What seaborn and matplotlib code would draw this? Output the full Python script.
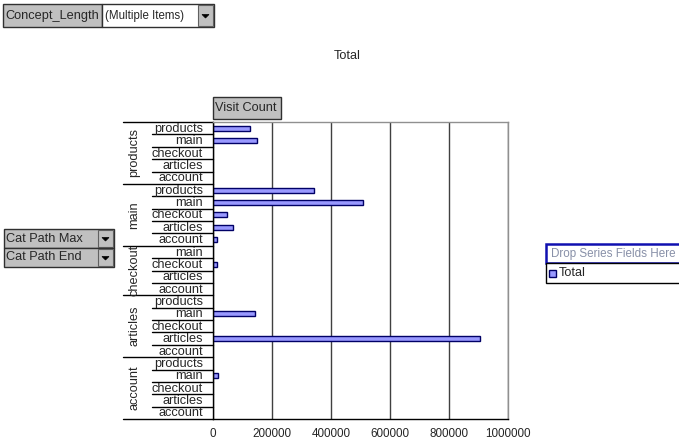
import pandas as pd
import matplotlib.pyplot as plt
import seaborn as sns
from matplotlib.patches import Rectangle, Polygon
from matplotlib.lines import Line2D
from matplotlib.transforms import blended_transform_factory

# pivot data: Cat Path Max (outer) -> Cat Path End (inner) -> Visit Count total
groups = ['products', 'main', 'checkout', 'articles', 'account']
ends = {
    'products': ['products', 'main', 'checkout', 'articles', 'account'],
    'main': ['products', 'main', 'checkout', 'articles', 'account'],
    'checkout': ['main', 'checkout', 'articles', 'account'],
    'articles': ['products', 'main', 'checkout', 'articles', 'account'],
    'account': ['products', 'main', 'checkout', 'articles', 'account'],
}
totals = {
    'products': [126000, 150000, 0, 0, 0],
    'main': [344000, 510000, 47000, 67000, 12000],
    'checkout': [0, 15000, 0, 0],
    'articles': [0, 143000, 0, 905000, 0],
    'account': [0, 17000, 0, 0, 0],
}
x_ticks = [0, 200000, 400000, 600000, 800000, 1000000]

rows = []
for g in groups:
    for e, v in zip(ends[g], totals[g]):
        rows.append({'Cat Path Max': g, 'Cat Path End': e, 'Total': v, 'key': g + '|' + e})
df = pd.DataFrame(rows)
order = list(df['key'])

sns.set_style('white')
plt.rcParams['font.family'] = ['Liberation Sans', 'DejaVu Sans']

W, H = 679, 441
FS = 9.2
fig = plt.figure(figsize=(W / 100, H / 100), dpi=100)


def fx(x):
    return x / W


def fy(y):
    return 1 - y / H


ax = fig.add_axes([fx(213), fy(419), (508 - 213) / W, (419 - 122) / H])
sns.barplot(data=df[df['Total'] > 0], x='Total', y='key', order=order, orient='h',
            color='#9999FF', saturation=1, edgecolor='#000066', linewidth=1,
            width=0.4, ax=ax)

ax.set_xlim(0, 1000000)
ax.set_ylim(len(order) - 0.5, -0.5)
ax.set_xticks(x_ticks)
ax.set_xticklabels([str(t) for t in x_ticks], fontsize=8.4)
ax.tick_params(axis='x', direction='out', length=3, width=1, color='black', pad=3.5)
ax.set_yticks([])
ax.set_xlabel('')
ax.set_ylabel('')
ax.xaxis.grid(True, color='#404040', linewidth=1)
ax.set_axisbelow(True)
for side in ['top', 'right']:
    ax.spines[side].set_color('#909090')
    ax.spines[side].set_linewidth(1)
for side in ['left', 'bottom']:
    ax.spines[side].set_color('black')
    ax.spines[side].set_linewidth(1)

# two-level category axis
tr = blended_transform_factory(fig.transFigure, ax.transData)
i = 0
for g in groups:
    n = len(ends[g])
    ax.add_line(Line2D([fx(123), fx(213)], [i - 0.5, i - 0.5], transform=tr,
                       color='black', lw=1, clip_on=False))
    for k, e in enumerate(ends[g]):
        ax.text(fx(203), i + k + 0.05, e, transform=tr, ha='right', va='center',
                fontsize=FS)
        if k < n - 1:
            ax.add_line(Line2D([fx(152), fx(213)], [i + k + 0.5, i + k + 0.5],
                               transform=tr, color='black', lw=1, clip_on=False))
    ax.text(fx(134), i + (n - 1) / 2, g, transform=tr, ha='center', va='center',
            rotation=90, fontsize=FS)
    i += n
ax.add_line(Line2D([fx(123), fx(213)], [i - 0.5, i - 0.5], transform=tr,
                   color='black', lw=1, clip_on=False))

fig.text(fx(347), fy(56), 'Total', ha='center', va='center', fontsize=FS)


def button(x0, y0, x1, y1, label, face='#C0C0C0', arrow=False):
    fig.patches.append(Rectangle((fx(x0), fy(y1)), (x1 - x0) / W, (y1 - y0) / H,
                                 transform=fig.transFigure, facecolor=face,
                                 edgecolor='#303030', lw=1))
    if label:
        fig.text(fx(x0 + 2), fy((y0 + y1) / 2), label, ha='left', va='center',
                 fontsize=FS)
    if arrow:
        ax0 = x1 - 16
        fig.patches.append(Rectangle((fx(ax0), fy(y1 - 1)), 15 / W, (y1 - y0 - 2) / H,
                                     transform=fig.transFigure, facecolor='#C0C0C0',
                                     edgecolor='#606060', lw=0.8))
        cx, cy = ax0 + 7.5, (y0 + y1) / 2 + 1
        fig.patches.append(Polygon([(fx(cx - 3.5), fy(cy - 2)), (fx(cx + 3.5), fy(cy - 2)),
                                    (fx(cx), fy(cy + 1.5))], closed=True,
                                   transform=fig.transFigure, facecolor='black',
                                   edgecolor='black', lw=0.5))


button(3, 4, 102, 27, 'Concept_Length')
button(102, 4, 214, 27, '', face='white', arrow=True)
fig.text(fx(105), fy(15.5), '(Multiple Items)', ha='left', va='center', fontsize=8.3)
button(213, 97, 281, 119, 'Visit Count')
button(4, 229, 114, 248, 'Cat Path Max', arrow=True)
button(4, 248, 114, 267, 'Cat Path End', arrow=True)

# legend area
fig.patches.append(Rectangle((fx(546), fy(263)), 140 / W, 19 / H, transform=fig.transFigure,
                             facecolor='white', edgecolor='#1010B0', lw=1.8))
fig.text(fx(551), fy(254), 'Drop Series Fields Here', ha='left', va='center',
         fontsize=8.4, color='#8890A8')
fig.patches.append(Rectangle((fx(546), fy(283)), 140 / W, 20 / H, transform=fig.transFigure,
                             facecolor='white', edgecolor='black', lw=1))
fig.patches.append(Rectangle((fx(549), fy(277)), 7 / W, 7 / H, transform=fig.transFigure,
                             facecolor='#9999FF', edgecolor='#000066', lw=1))
fig.text(fx(559), fy(273), 'Total', ha='left', va='center', fontsize=FS)

fig.savefig('out.png', dpi=100)
